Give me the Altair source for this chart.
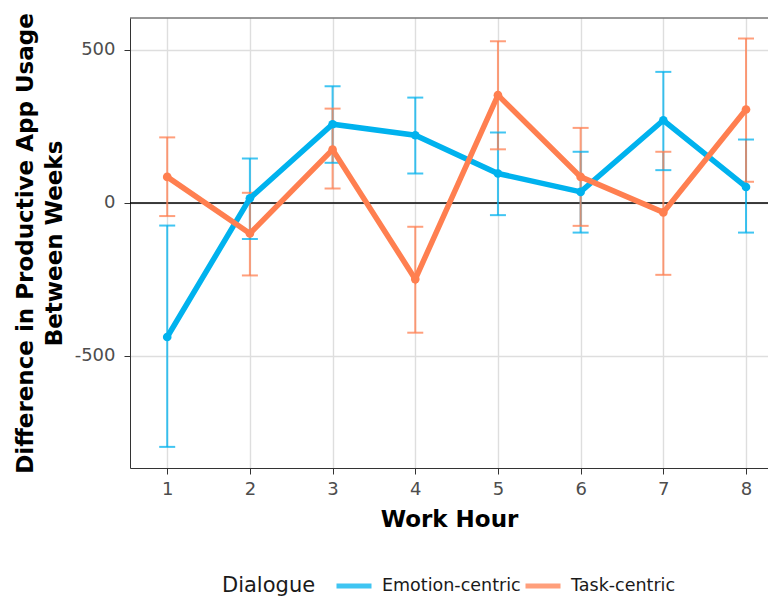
import altair as alt
import pandas as pd

hours = [1, 2, 3, 4, 5, 6, 7, 8]
groups = ["Emotion-centric", "Task-centric"]

emotion_mean = [-438, 15, 257, 221, 96, 36, 270, 52]
emotion_lo = [-797, -118, 131, 96, -40, -97, 107, -97]
emotion_hi = [-74, 145, 381, 344, 230, 167, 428, 207]

task_mean = [85, -100, 174, -249, 352, 85, -31, 305]
task_lo = [-43, -237, 47, -424, 175, -75, -235, 69]
task_hi = [214, 33, 308, -78, 528, 245, 167, 537]

y_ticks = [-500, 0, 500]

rows = []
for g, m, lo, hi in [(groups[0], emotion_mean, emotion_lo, emotion_hi),
                     (groups[1], task_mean, task_lo, task_hi)]:
    for h, mv, l, u in zip(hours, m, lo, hi):
        rows.append({"hour": h, "Dialogue": g, "mean": mv, "lo": l, "hi": u})
df = pd.DataFrame(rows)

BLUE = "#00B2EE"
ORANGE = "#FF7F50"
Y_DOMAIN = [-866, 604]

legend = alt.Legend(orient="none", legendX=92, legendY=557,
                    direction="horizontal", columns=2,
                    title="Dialogue", titleOrient="left",
                    titleFontSize=21, titleFontWeight="normal",
                    titleColor="#1A1A1A", titlePadding=18,
                    titleBaseline="middle",
                    labelFontSize=17.5, labelColor="#1A1A1A",
                    labelOffset=8, columnPadding=2,
                    clipHeight=22,
                    symbolType="stroke", symbolStrokeWidth=5,
                    symbolSize=1225)
color = alt.Color("Dialogue:N",
                  scale=alt.Scale(domain=groups, range=[BLUE, ORANGE]),
                  legend=legend)

x_axis = alt.Axis(values=hours, title="Work Hour", labelExpr="datum.value",
                  grid=True, gridColor="#DEDEDE", gridWidth=1.4,
                  domain=True, domainColor="#333333", domainWidth=1,
                  tickColor="#333333", tickSize=6,
                  labelPadding=6, labelFontSize=18, labelColor="#4D4D4D",
                  titleFontSize=23, titleFontWeight="bold", titleColor="#000000",
                  titlePadding=10)
x_scale = alt.Scale(domain=[0.55, 8.266], nice=False, zero=False)
x = alt.X("hour:Q", scale=x_scale, axis=x_axis)

y_axis = alt.Axis(values=y_ticks, labelExpr="datum.value",
                  title=["Difference in Productive App Usage", "Between Weeks"],
                  grid=True, gridColor="#DEDEDE", gridWidth=1.4,
                  domain=True, domainColor="#333333", domainWidth=1,
                  tickColor="#333333", tickSize=6,
                  labelPadding=9, labelFontSize=18, labelColor="#4D4D4D",
                  titleFontSize=23, titleFontWeight="bold", titleColor="#000000",
                  titleLineHeight=29, titlePadding=8)
y_scale = alt.Scale(domain=Y_DOMAIN, nice=False, zero=False)


def yq(field):
    return alt.Y(field, scale=y_scale, axis=y_axis)


base = alt.Chart(df)

refs = alt.Chart(pd.DataFrame({"z": [0], "top": [Y_DOMAIN[1]]}))
zero = refs.mark_rule(color="#000000", strokeWidth=1.5).encode(y=yq("z:Q"))
top = refs.mark_rule(color="#333333", strokeWidth=1).encode(y=yq("top:Q"))

err = base.mark_rule(strokeWidth=2, opacity=0.75).encode(
    x=x, y=yq("lo:Q"), y2="hi:Q", color=color)
cap_lo = base.mark_tick(orient="horizontal", size=16, thickness=2, opacity=0.75).encode(
    x=x, y=yq("lo:Q"), color=color)
cap_hi = base.mark_tick(orient="horizontal", size=16, thickness=2, opacity=0.75).encode(
    x=x, y=yq("hi:Q"), color=color)
line = base.mark_line(strokeWidth=5.5).encode(x=x, y=yq("mean:Q"), color=color)
pts = base.mark_circle(size=75, opacity=1).encode(x=x, y=yq("mean:Q"), color=color)

chart = alt.layer(zero, top, err, cap_lo, cap_hi, line, pts).properties(
    width=638, height=450,
    autosize=alt.AutoSizeParams(type="none"),
    padding={"left": 122, "top": 10, "right": 0, "bottom": 130},
).configure(font="DejaVu Sans").configure_view(stroke=None)

chart.save("out.html", embed_options={"renderer": "svg", "actions": False})
